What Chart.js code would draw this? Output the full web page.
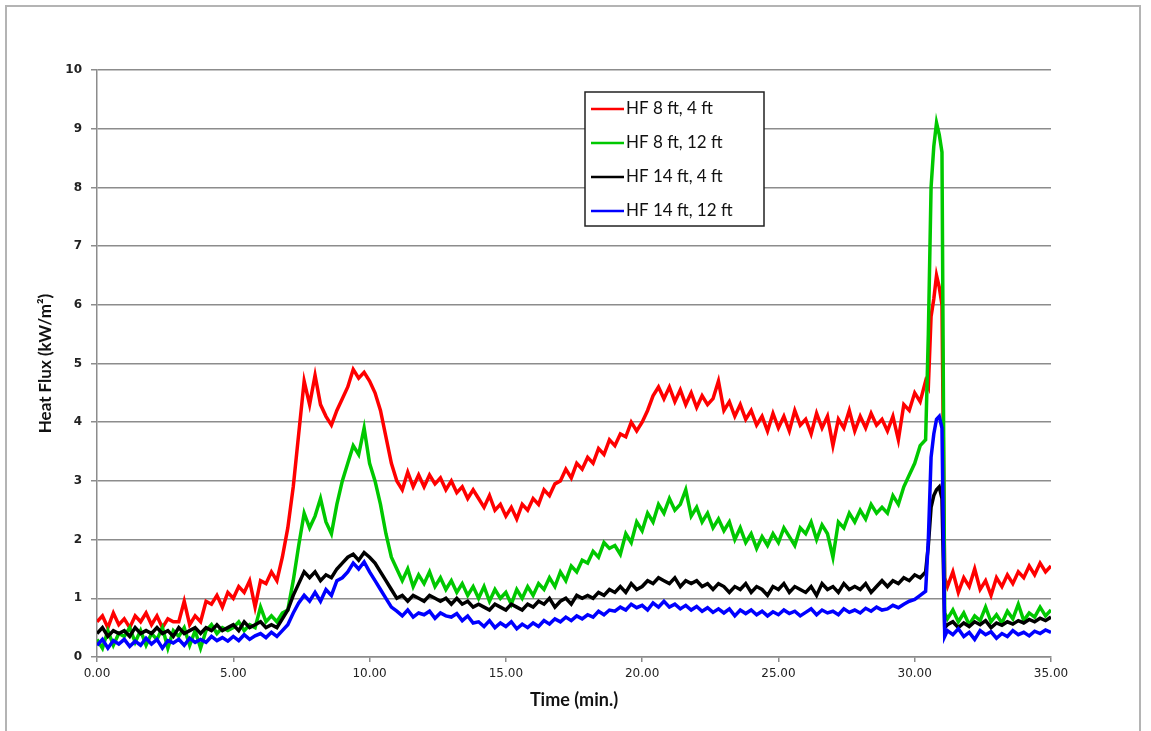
<!DOCTYPE html>
<html>
<head>
<meta charset="utf-8">
<script src="https://cdn.jsdelivr.net/npm/chart.js@4.4.1/dist/chart.umd.min.js"></script>
<style>
  html, body { margin: 0; padding: 0; background: #fff; }
</style>
</head>
<body>
<canvas id="heatFluxChart" width="1151" height="731"></canvas>
<script>
// sample times (min)
const time = [
  0,0.2,0.4,0.6,0.8, 1,1.2,1.4,1.6,1.8, 2,2.2,2.4,2.6,2.8, 3,3.2,3.4,3.6,3.8,
  4,4.2,4.4,4.6,4.8, 5,5.2,5.4,5.6,5.8, 6,6.2,6.4,6.6,6.8, 7,7.2,7.4,7.6,7.8,
  8,8.2,8.4,8.6,8.8, 9,9.2,9.4,9.6,9.8, 10,10.2,10.4,10.6,10.8, 11,11.2,11.4,11.6,11.8,
  12,12.2,12.4,12.6,12.8, 13,13.2,13.4,13.6,13.8, 14,14.2,14.4,14.6,14.8, 15,15.2,15.4,15.6,15.8,
  16,16.2,16.4,16.6,16.8, 17,17.2,17.4,17.6,17.8, 18,18.2,18.4,18.6,18.8, 19,19.2,19.4,19.6,19.8,
  20,20.2,20.4,20.6,20.8, 21,21.2,21.4,21.6,21.8, 22,22.2,22.4,22.6,22.8, 23,23.2,23.4,23.6,23.8,
  24,24.2,24.4,24.6,24.8, 25,25.2,25.4,25.6,25.8, 26,26.2,26.4,26.6,26.8, 27,27.2,27.4,27.6,27.8,
  28,28.2,28.4,28.6,28.8, 29,29.2,29.4,29.6,29.8, 30,30.2,30.4,
  30.5,30.6,30.7,30.8,30.9,31,
  31.1,31.2,31.4,31.6,31.8,32,32.2,32.4,32.6,32.8,33,33.2,33.4,33.6,33.8,34,34.2,34.4,34.6,34.8,35
];

// HF 8 ft, 4 ft (kW/m2)
const hf8ft4ft = [
  0.6,0.7,0.5,0.75,0.55, 0.65,0.5,0.7,0.6,0.75, 0.55,0.7,0.5,0.65,0.6, 0.6,0.95,0.55,0.7,0.6,
  0.95,0.9,1.05,0.85,1.1, 1.0,1.2,1.1,1.3,0.85, 1.3,1.25,1.45,1.3,1.7, 2.2,2.9,3.8,4.7,4.3,
  4.8,4.3,4.1,3.95,4.2, 4.4,4.6,4.9,4.75,4.85, 4.7,4.5,4.2,3.75,3.3, 3.0,2.85,3.15,2.9,3.1,
  2.9,3.1,2.95,3.05,2.85, 3.0,2.8,2.9,2.7,2.85, 2.7,2.55,2.75,2.5,2.6, 2.4,2.55,2.35,2.6,2.5,
  2.7,2.6,2.85,2.75,2.95, 3.0,3.2,3.05,3.3,3.2, 3.4,3.3,3.55,3.45,3.7, 3.6,3.8,3.75,4.0,3.85,
  4.0,4.2,4.45,4.6,4.4, 4.6,4.35,4.55,4.3,4.5, 4.25,4.45,4.3,4.4,4.7, 4.2,4.35,4.1,4.3,4.05,
  4.2,3.95,4.1,3.85,4.15, 3.9,4.1,3.85,4.2,3.95, 4.05,3.8,4.15,3.9,4.1, 3.6,4.05,3.9,4.2,3.85,
  4.1,3.9,4.15,3.95,4.05, 3.85,4.1,3.7,4.3,4.2, 4.5,4.35,4.7,
  4.6,5.8,6.1,6.5,6.3,6.0,
  1.35,1.2,1.45,1.1,1.35,1.2,1.5,1.15,1.3,1.05,1.35,1.2,1.4,1.25,1.45,1.35,1.55,1.4,1.6,1.45,1.55
];

// HF 8 ft, 12 ft
const hf8ft12ft = [
  0.3,0.15,0.45,0.2,0.4, 0.35,0.5,0.25,0.45,0.2, 0.4,0.3,0.5,0.15,0.45, 0.35,0.5,0.2,0.45,0.15,
  0.45,0.55,0.4,0.5,0.45, 0.5,0.6,0.45,0.55,0.5, 0.85,0.6,0.7,0.6,0.75, 0.8,1.3,1.9,2.45,2.2,
  2.4,2.7,2.3,2.1,2.6, 3.0,3.3,3.6,3.45,3.9, 3.3,3.0,2.6,2.1,1.7, 1.5,1.3,1.5,1.2,1.4,
  1.25,1.45,1.2,1.35,1.15, 1.3,1.1,1.25,1.05,1.2, 1.0,1.2,0.95,1.15,1.0, 1.1,0.9,1.15,1.0,1.2,
  1.05,1.25,1.15,1.35,1.2, 1.45,1.3,1.55,1.45,1.65, 1.6,1.8,1.7,1.95,1.85, 1.9,1.75,2.1,1.95,2.3,
  2.15,2.45,2.3,2.6,2.45, 2.7,2.5,2.6,2.85,2.4, 2.55,2.3,2.45,2.2,2.35, 2.15,2.3,2.0,2.2,1.95,
  2.1,1.85,2.05,1.9,2.1, 1.95,2.2,2.05,1.9,2.2, 2.1,2.3,2.0,2.25,2.1, 1.7,2.3,2.2,2.45,2.3,
  2.5,2.35,2.6,2.45,2.55, 2.45,2.75,2.6,2.9,3.1, 3.3,3.6,3.7,
  5.5,8.0,8.7,9.1,8.9,8.6,
  0.75,0.65,0.8,0.6,0.75,0.55,0.7,0.62,0.85,0.6,0.72,0.58,0.78,0.65,0.9,0.62,0.75,0.68,0.85,0.7,0.8
];

// HF 14 ft, 4 ft
const hf14ft4ft = [
  0.4,0.5,0.35,0.45,0.4, 0.45,0.35,0.5,0.4,0.45, 0.4,0.5,0.4,0.45,0.35, 0.5,0.4,0.45,0.5,0.4,
  0.5,0.45,0.55,0.45,0.5, 0.55,0.45,0.6,0.5,0.55, 0.6,0.5,0.55,0.5,0.65, 0.8,1.05,1.25,1.45,1.35,
  1.45,1.3,1.4,1.35,1.5, 1.6,1.7,1.75,1.65,1.78, 1.7,1.6,1.45,1.3,1.15, 1.0,1.05,0.95,1.05,1.0,
  0.95,1.05,1.0,0.95,1.0, 0.9,1.0,0.9,0.95,0.85, 0.9,0.85,0.8,0.9,0.85, 0.8,0.9,0.85,0.8,0.9,
  0.85,0.95,0.9,1.0,0.85, 0.95,1.0,0.9,1.05,1.0, 1.05,1.0,1.1,1.05,1.15, 1.1,1.2,1.1,1.25,1.15,
  1.2,1.3,1.25,1.35,1.3, 1.25,1.35,1.2,1.3,1.25, 1.3,1.2,1.25,1.15,1.25, 1.2,1.1,1.2,1.15,1.25,
  1.1,1.2,1.15,1.05,1.2, 1.15,1.25,1.1,1.2,1.15, 1.1,1.2,1.05,1.25,1.15, 1.2,1.1,1.25,1.15,1.2,
  1.15,1.25,1.1,1.2,1.3, 1.2,1.3,1.25,1.35,1.3, 1.4,1.35,1.45,
  1.9,2.55,2.75,2.85,2.9,2.7,
  0.5,0.55,0.6,0.5,0.58,0.52,0.6,0.55,0.62,0.5,0.58,0.54,0.6,0.56,0.62,0.58,0.64,0.6,0.66,0.62,0.68
];

// HF 14 ft, 12 ft
const hf14ft12ft = [
  0.2,0.3,0.15,0.28,0.22, 0.3,0.18,0.27,0.2,0.32, 0.22,0.3,0.15,0.28,0.24, 0.3,0.2,0.32,0.25,0.3,
  0.25,0.35,0.28,0.33,0.27, 0.35,0.28,0.38,0.3,0.36, 0.4,0.33,0.42,0.35,0.45, 0.55,0.75,0.92,1.05,0.95,
  1.1,0.95,1.15,1.05,1.3, 1.35,1.45,1.6,1.5,1.62, 1.45,1.3,1.15,1.0,0.85, 0.78,0.7,0.8,0.68,0.75,
  0.72,0.78,0.66,0.75,0.7, 0.68,0.74,0.62,0.7,0.58, 0.6,0.52,0.62,0.5,0.58, 0.52,0.6,0.48,0.56,0.5,
  0.58,0.52,0.62,0.56,0.65, 0.6,0.68,0.62,0.7,0.65, 0.72,0.68,0.78,0.72,0.8, 0.78,0.85,0.8,0.9,0.84,
  0.88,0.8,0.92,0.85,0.95, 0.85,0.9,0.82,0.88,0.8, 0.86,0.78,0.84,0.76,0.82, 0.75,0.82,0.7,0.8,0.74,
  0.8,0.72,0.78,0.7,0.77, 0.72,0.8,0.74,0.78,0.7, 0.76,0.82,0.72,0.8,0.75, 0.78,0.72,0.82,0.76,0.8,
  0.75,0.83,0.78,0.85,0.8, 0.82,0.88,0.84,0.9,0.95, 0.98,1.05,1.12,
  2.0,3.4,3.8,4.05,4.1,3.9,
  0.35,0.45,0.38,0.48,0.35,0.42,0.3,0.45,0.38,0.43,0.32,0.4,0.35,0.45,0.38,0.42,0.36,0.44,0.4,0.46,0.42
];

const seriesLabels = ['HF 8 ft, 4 ft', 'HF 8 ft, 12 ft', 'HF 14 ft, 4 ft', 'HF 14 ft, 12 ft'];
const seriesColors = ['#ff0000', '#00c800', '#000000', '#0000ff'];
const seriesValues = [hf8ft4ft, hf8ft12ft, hf14ft4ft, hf14ft12ft];

const gridGray = '#8c8c8c';

// light frame round the whole picture
const framePlugin = {
  id: 'frame',
  beforeDraw(chart) {
    const ctx = chart.ctx;
    ctx.save();
    ctx.fillStyle = '#fff';
    ctx.fillRect(0, 0, chart.width, chart.height);
    ctx.strokeStyle = '#b4b4b4';
    ctx.lineWidth = 2;
    ctx.strokeRect(6, 6, 1134, 740);
    ctx.restore();
  }
};

// boxed legend inside the plot, like the original
const boxLegend = {
  id: 'boxLegend',
  afterDraw(chart) {
    const ctx = chart.ctx;
    const area = chart.chartArea;
    const left = area.left + 488, top = area.top + 22;
    const w = 179, h = 134;
    ctx.save();
    ctx.fillStyle = '#fff';
    ctx.fillRect(left, top, w, h);
    ctx.strokeStyle = '#222';
    ctx.lineWidth = 1.5;
    ctx.strokeRect(left, top, w, h);
    ctx.font = '17px Lato';
    ctx.textBaseline = 'middle';
    chart.data.datasets.forEach((ds, i) => {
      const y = top + 17 + i * 34;
      ctx.strokeStyle = ds.borderColor;
      ctx.lineWidth = 2.5;
      ctx.beginPath();
      ctx.moveTo(left + 6, y);
      ctx.lineTo(left + 39, y);
      ctx.stroke();
      ctx.fillStyle = '#111';
      ctx.fillText(ds.label, left + 41, y);
    });
    ctx.restore();
  }
};

const datasets = seriesLabels.map((label, i) => ({
  label: label,
  data: time.map((t, j) => ({ x: t, y: seriesValues[i][j] })),
  borderColor: seriesColors[i],
  backgroundColor: seriesColors[i],
  borderWidth: 3.5,
  pointRadius: 0,
  tension: 0,
  order: 3 - i   // last series drawn on top, as in the original
}));

new Chart(document.getElementById('heatFluxChart'), {
  type: 'line',
  data: { datasets: datasets },
  options: {
    responsive: false,
    animation: false,
    layout: { padding: { left: 35, right: 100, top: 70, bottom: 20 } },
    plugins: {
      legend: { display: false },
      tooltip: { enabled: false }
    },
    scales: {
      x: {
        type: 'linear',
        min: 0,
        max: 35,
        afterFit(scale) { scale.height = 54; },
        ticks: {
          stepSize: 5,
          maxRotation: 0,
          padding: 5,
          color: '#222',
          font: { family: 'DejaVu Sans', size: 12 },
          callback: v => v.toFixed(2)
        },
        grid: { drawOnChartArea: false, drawTicks: true, tickLength: 5, color: gridGray, lineWidth: 1.5 },
        border: { color: gridGray, width: 1.5 },
        title: {
          display: true,
          text: 'Time (min.)',
          color: '#111',
          font: { family: 'Lato', size: 18, weight: 'bold' },
          padding: { top: 0, bottom: 0 }
        }
      },
      y: {
        min: 0,
        max: 10,
        afterFit(scale) { scale.width = 62; },
        ticks: {
          stepSize: 1,
          padding: 9,
          color: '#222',
          font: { family: 'DejaVu Sans', size: 12, weight: 'bold' }
        },
        grid: { color: gridGray, lineWidth: 1.5, tickLength: 6 },
        border: { color: gridGray, width: 1.5 },
        title: {
          display: true,
          text: 'Heat Flux (kW/m²)',
          color: '#111',
          font: { family: 'Lato', size: 17, weight: 'bold' },
          padding: { top: 0, bottom: 0 }
        }
      }
    }
  },
  plugins: [framePlugin, boxLegend]
});
</script>
</body>
</html>
